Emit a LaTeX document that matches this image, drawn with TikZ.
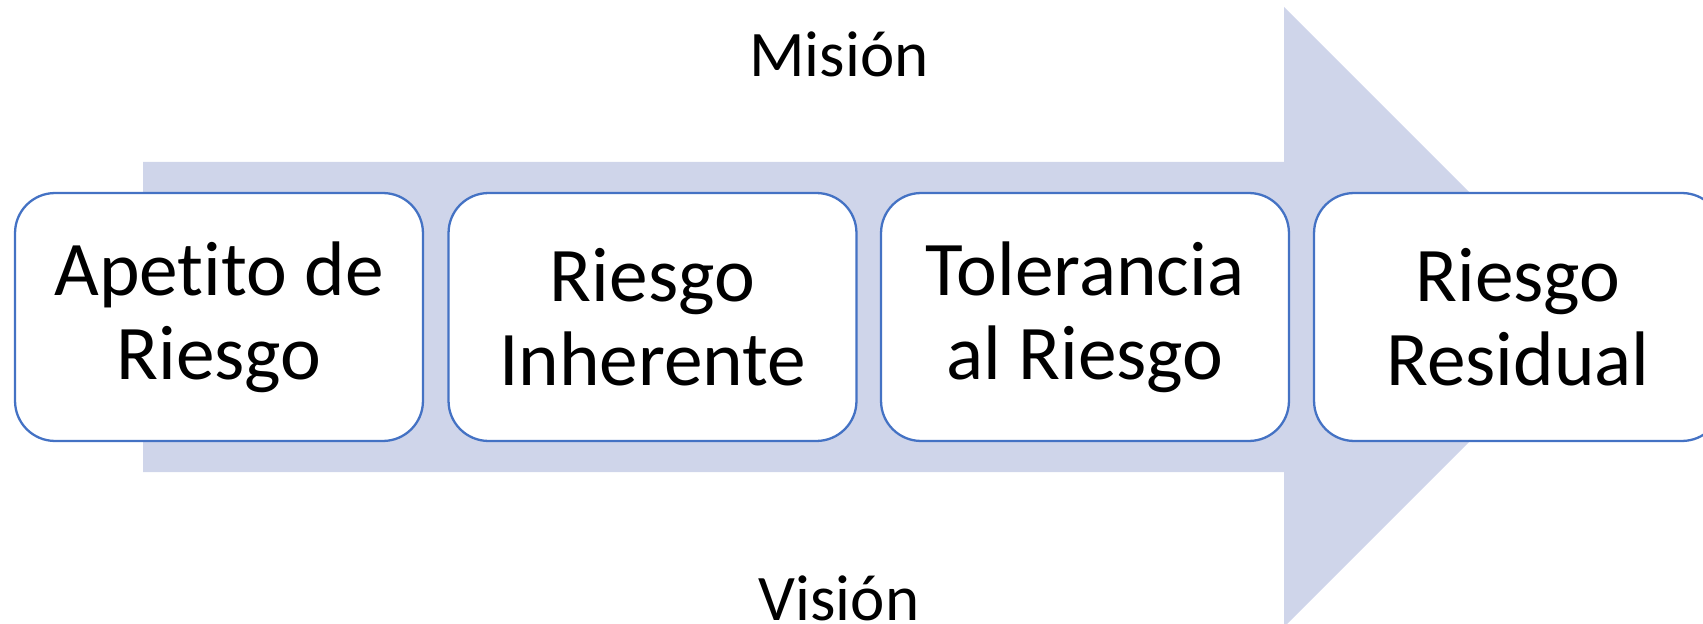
\documentclass[tikz,border=0pt]{standalone}
\usepackage{fontspec}
\setmainfont[Ligatures={NoCommon}]{Carlito}
\definecolor{arrowfill}{RGB}{207,213,234}
\definecolor{boxline}{RGB}{68,114,196}
\begin{document}
\begin{tikzpicture}[x=0.02cm,y=-0.02cm,
  stepbox/.style={draw=boxline,line width=1.3pt,fill=white,rounded corners=0.8cm,
    minimum width=8.16cm,minimum height=4.96cm,align=center,
    font=\fontsize{44}{48}\selectfont,inner sep=0pt},
  lbl/.style={font=\fontsize{37}{44}\selectfont,inner sep=0pt,anchor=base}]
\useasboundingbox (0,0) rectangle (1703,624);
\fill[arrowfill] (143,162) -- (1284,162) -- (1284,7) -- (1594,317) -- (1284,627) -- (1284,472) -- (143,472) -- cycle;
\node[stepbox] (a) at (219,317) {Apetito de\\Riesgo};
\node[stepbox] (b) at (652.5,317) {Riesgo\\Inherente};
\node[stepbox] (c) at (1085,317) {Tolerancia\\al Riesgo};
\node[stepbox] (d) at (1518,317) {Riesgo\\Residual};
\node[lbl] (m) at (839,77) {Misión};
\node[lbl] (v) at (839,620) {Visión};
\end{tikzpicture}
\end{document}
